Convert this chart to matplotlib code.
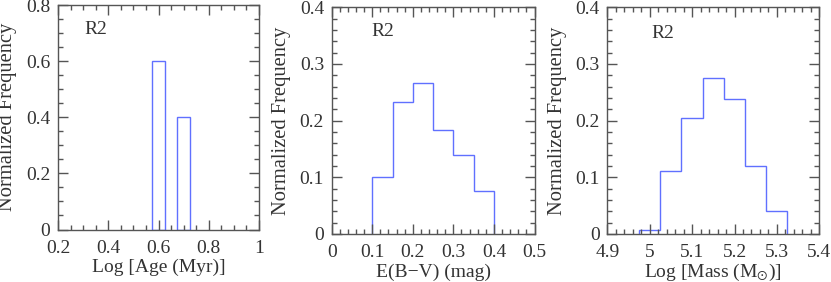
import matplotlib
matplotlib.use("Agg")
import matplotlib.pyplot as plt
from matplotlib.ticker import MultipleLocator, FuncFormatter

# ---- data ----
age_centers = [0.60, 0.70]
age_freq = [0.60, 0.40]
age_width = 0.05

ebv_edges = [0.10, 0.15, 0.20, 0.25, 0.30, 0.35, 0.40]
ebv_freq = [0.100, 0.233, 0.266, 0.183, 0.140, 0.076]

mass_edges = [4.975, 5.025, 5.075, 5.125, 5.175, 5.225, 5.275, 5.325]
mass_freq = [0.007, 0.112, 0.204, 0.276, 0.238, 0.120, 0.040]

panel_label = "R2"
ylabel = "Normalized Frequency"
xlabels = ["Log [Age (Myr)]", "E(B\u2212V) (mag)", r"Log [Mass (M$_{\odot}$)]"]

# ---- style ----
plt.rcParams['font.family'] = ['Liberation Serif', 'DejaVu Serif']
plt.rcParams['mathtext.fontset'] = 'stix'
TXT = '#333333'
AX = '#555555'
BLUE = '#6070ff'
FS = 14

W, H = 831, 282
fig = plt.figure(figsize=(W / 100, H / 100), dpi=100)

def add_axes(left, top, right, bottom):
    return fig.add_axes([left / W, 1 - bottom / H, (right - left) / W, (bottom - top) / H])

boxes = [(58, 5, 259, 229.5), (331.7, 7.3, 534.5, 234), (607.3, 7.3, 819.3, 234)]
axes = [add_axes(*b) for b in boxes]
ax1, ax2, ax3 = axes

fmt = FuncFormatter(lambda v, p: ('%g' % round(v, 6)))

def style(ax, box, xlim, ylim, xmaj, xmin, ymaj, ymin, xlabel, lx, ly):
    wpx = box[2] - box[0]
    hpx = box[3] - box[1]
    ax.set_xlim(*xlim)
    ax.set_ylim(*ylim)
    ax.xaxis.set_major_locator(MultipleLocator(xmaj))
    ax.xaxis.set_minor_locator(MultipleLocator(xmin))
    ax.yaxis.set_major_locator(MultipleLocator(ymaj))
    ax.yaxis.set_minor_locator(MultipleLocator(ymin))
    ax.xaxis.set_major_formatter(fmt)
    ax.yaxis.set_major_formatter(fmt)
    ax.tick_params(which='both', direction='in', top=True, right=True,
                   color=AX, labelcolor=TXT, labelsize=FS, width=1.0)
    ax.tick_params(which='major', length=7.2)
    ax.tick_params(which='minor', length=3.6)
    ax.tick_params(axis='x', which='major', pad=7.5)
    ax.tick_params(axis='y', which='major', pad=5.5)
    for s in ax.spines.values():
        s.set_color(AX)
        s.set_linewidth(1.0)
    ax.set_xlabel(xlabel, fontsize=FS, color=TXT, va='center')
    ax.xaxis.set_label_coords(0.5, -38.0 / hpx)
    ax.set_ylabel(ylabel, fontsize=14.8, color=TXT, va='center')
    ax.yaxis.set_label_coords(-50.0 / wpx, 0.5)
    ax.text(lx, ly, panel_label, transform=ax.transAxes, fontsize=FS,
            color=TXT, ha='left', va='center')

ax1.bar(age_centers, age_freq, width=age_width, fill=False, edgecolor=BLUE, linewidth=1.0)
style(ax1, boxes[0], (0.2, 1.0), (0, 0.8), 0.2, 0.05, 0.2, 0.05, xlabels[0], 0.13, 0.893)

ax2.stairs(ebv_freq, ebv_edges, color=BLUE, linewidth=1.0, baseline=0)
style(ax2, boxes[1], (0, 0.5), (0, 0.4), 0.1, 0.02, 0.1, 0.02, xlabels[1], 0.197, 0.893)

ax3.stairs(mass_freq, mass_edges, color=BLUE, linewidth=1.0, baseline=0)
style(ax3, boxes[2], (4.9, 5.4), (0, 0.4), 0.1, 0.02, 0.1, 0.02, xlabels[2], 0.206, 0.885)

fig.savefig("out.png", dpi=100)
